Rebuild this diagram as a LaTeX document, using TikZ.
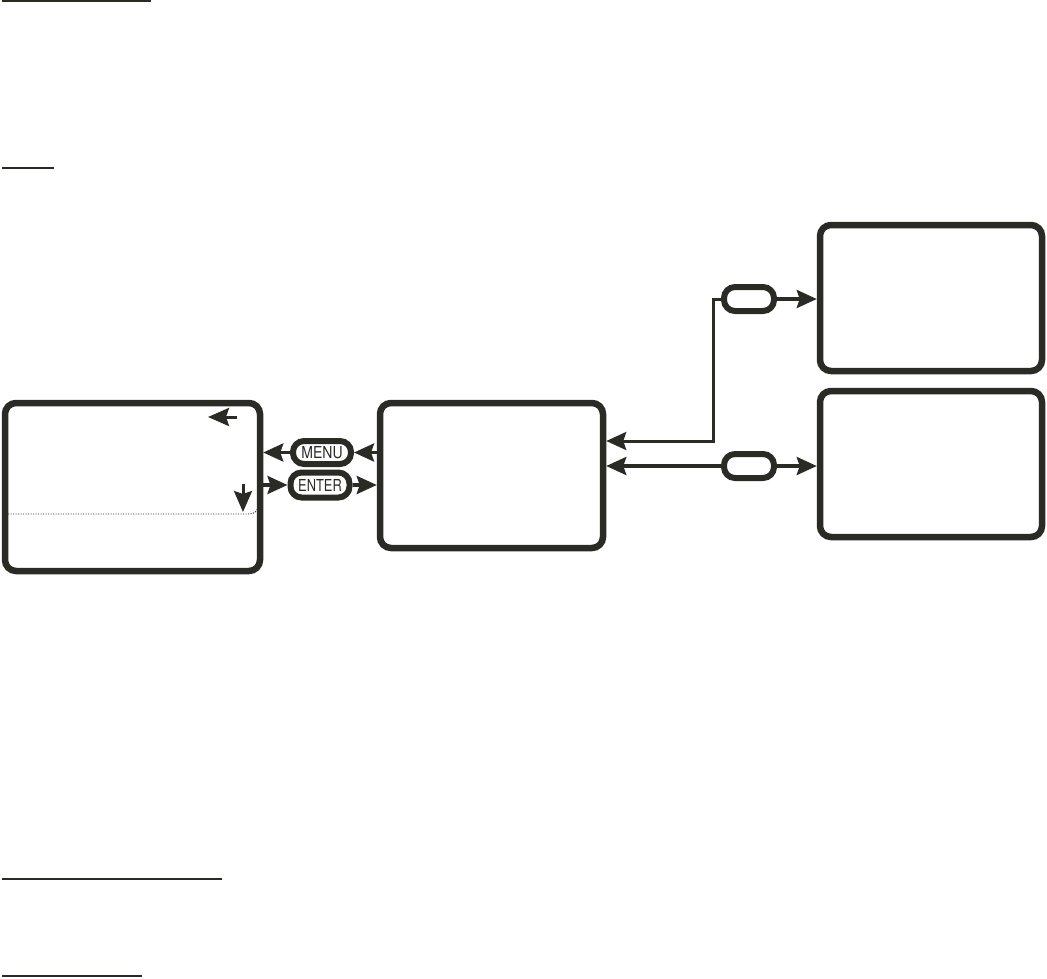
\documentclass[tikz,border=0pt]{standalone}
\usepackage{fontspec}
\setsansfont{TeX Gyre Heros}
\newfontfamily\keyfontA[FakeStretch=0.85]{TeX Gyre Heros}
\newfontfamily\keyfontB[FakeStretch=0.78]{TeX Gyre Heros}
\usetikzlibrary{arrows.meta}
\definecolor{ink}{RGB}{43,43,38}
\begin{document}
\begin{tikzpicture}[x=1pt,y=-1pt,
  screen/.style={draw=ink,line width=6.5pt,rounded corners=11pt,inner sep=0pt,fill=white},
  keybox/.style={draw=ink,line width=6pt,rounded corners=11pt,inner sep=0pt,fill=white,text=ink},
  conn/.style={draw=ink,line width=3.5pt,-{Stealth[length=20pt,width=18pt,inset=3pt]}},
  pointer/.style={draw=ink,line width=3pt,-{Stealth[length=21pt,width=18pt,inset=3pt]}},
  uline/.style={draw=ink,line width=2pt}]
\useasboundingbox (0,0) rectangle (1047,978);
% underlines
\draw[uline] (2,1) -- (151,1);
\draw[uline] (2,168) -- (54,168);
\draw[uline] (2,879) -- (222,879);
\draw[uline] (2,976) -- (142,976);
% screens
\node[screen,minimum width=255pt,minimum height=168pt] (lbox) at (132.5,487) {};
\node[screen,minimum width=223pt,minimum height=145pt] (mid) at (491.5,475.5) {};
\node[screen,minimum width=222pt,minimum height=146pt] (tr) at (931,298) {};
\node[screen,minimum width=222pt,minimum height=146pt] (br) at (931,464) {};
% keys
\node[keybox,minimum width=58pt,minimum height=23pt,font=\keyfontA\fontsize{16.5}{16.5}\selectfont] (menu) at (322,452.5) {MENU};
\node[keybox,minimum width=59pt,minimum height=25pt,font=\keyfontB\fontsize{16.5}{16.5}\selectfont] (enter) at (320,485) {ENTER};
\node[keybox,minimum width=50pt,minimum height=24pt] (k1) at (749,299) {};
\node[keybox,minimum width=50pt,minimum height=24pt] (k2) at (749,466) {};
% inner pointers of left screen
\draw[pointer] (237,417) -- (208,417);
\draw[pointer] (243,484) -- (243,512);
\draw[ink,line width=0.9pt,dash pattern=on 1.2pt off 1.3pt] (8,514) -- (248,514)
  .. controls (254,514) and (257,512) .. (258,507);
% connectors
\draw[conn] (mid.west |- menu) -- (menu.east);
\draw[conn] (menu.west) -- (lbox.east |- menu);
\draw[conn] (lbox.east |- enter) -- (enter.west);
\draw[conn] (enter.east) -- (mid.west |- enter);
\coordinate (j) at (713,441);
\draw[conn,line width=3pt] (k1.west) -| (j) -- (mid.east |- j);
\draw[conn] (k1.east) -- (tr.west |- k1);
\draw[conn] (k2.west) -- (mid.east |- k2);
\draw[conn] (k2.east) -- (br.west |- k2);
\end{tikzpicture}
\end{document}
